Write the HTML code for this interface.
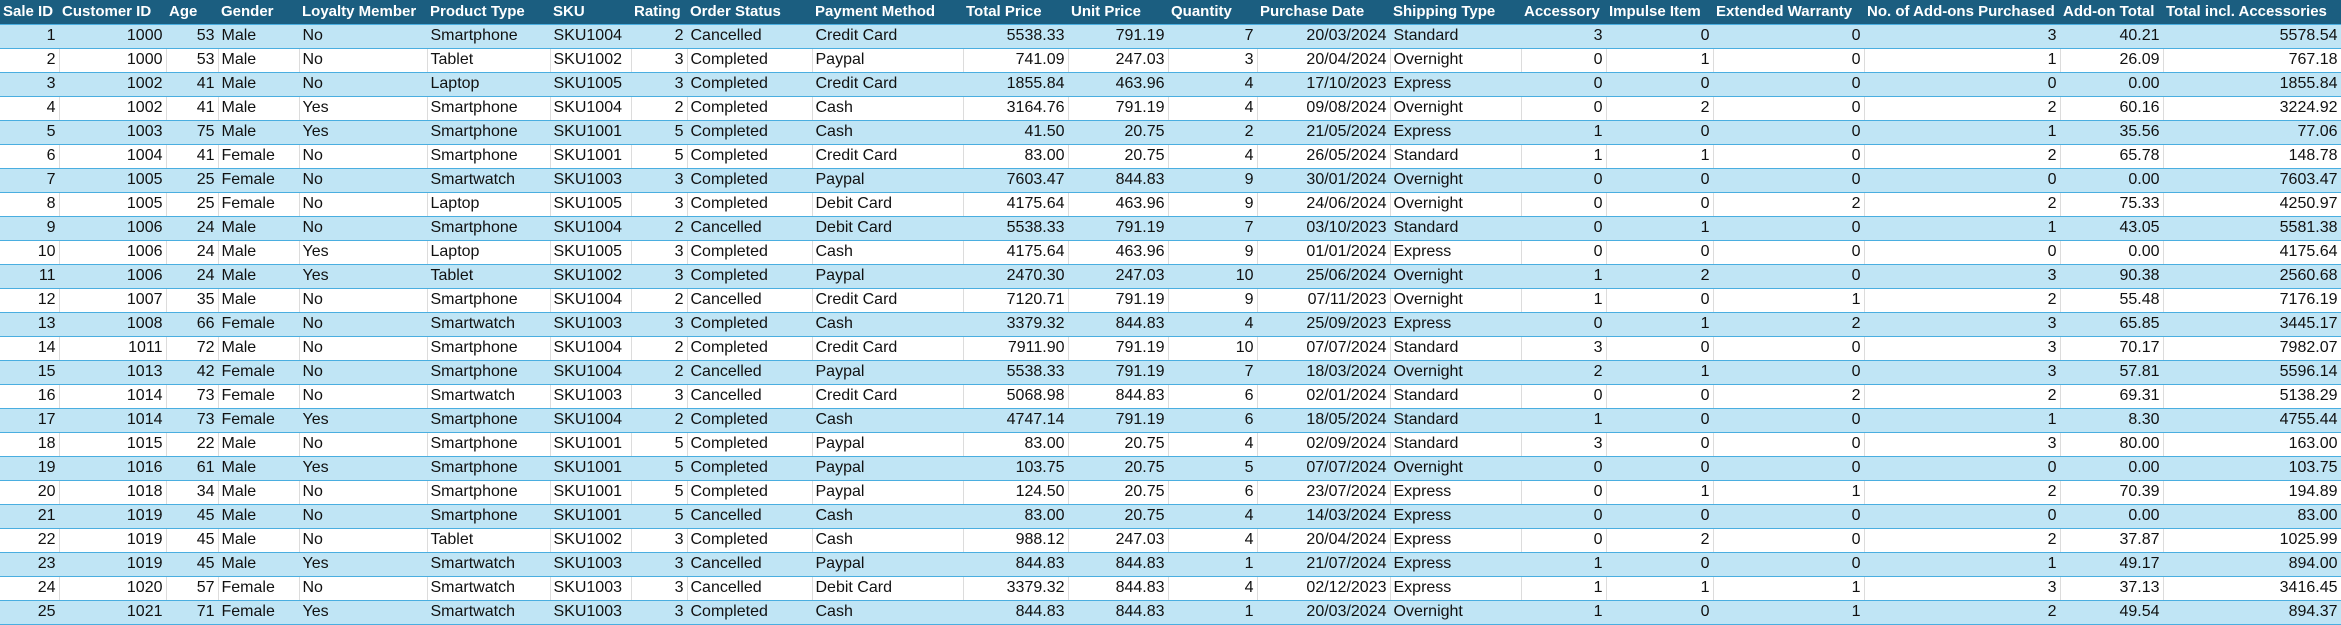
<!DOCTYPE html>
<html><head><meta charset="utf-8">
<style>
html,body{margin:0;padding:0;background:#fff;width:2341px;height:625px;overflow:hidden}
table{border-collapse:collapse;table-layout:fixed;width:2341px;font-family:"Liberation Sans",Arial,sans-serif;font-size:16px;color:#111}
th{background:#1b5e80;color:#fff;font-weight:bold;text-align:left;height:24px;padding:0 3px;white-space:nowrap;overflow:hidden;border-bottom:1px solid #4aaee0;box-sizing:border-box;font-size:15px}
td{height:24px;padding:0 3px;white-space:nowrap;overflow:hidden;border-bottom:1px solid #4aaee0;border-right:1px solid #dcdcdc;box-sizing:border-box}
tr.odd td{background:#c0e5f5;border-right-color:#c0e5f5}
td.r{text-align:right}
</style></head><body>
<table>
<colgroup>
<col style="width:59px"><col style="width:107px"><col style="width:52px"><col style="width:81px"><col style="width:128px"><col style="width:123px"><col style="width:81px"><col style="width:56px"><col style="width:125px"><col style="width:151px"><col style="width:105px"><col style="width:100px"><col style="width:89px"><col style="width:133px"><col style="width:131px"><col style="width:85px"><col style="width:107px"><col style="width:151px"><col style="width:196px"><col style="width:103px"><col style="width:178px">
</colgroup>
<thead><tr id="hdr"></tr></thead>
<tbody id="body"></tbody>
</table>
<script>
var headers=["Sale ID","Customer ID","Age","Gender","Loyalty Member","Product Type","SKU","Rating","Order Status","Payment Method","Total Price","Unit Price","Quantity","Purchase Date","Shipping Type","Accessory","Impulse Item","Extended Warranty","No. of Add-ons Purchased","Add-on Total","Total incl. Accessories"];
var rightAligned=[1,1,1,0,0,0,0,1,0,0,1,1,1,1,0,1,1,1,1,1,1];
var rows=[
"1|1000|53|Male|No|Smartphone|SKU1004|2|Cancelled|Credit Card|5538.33|791.19|7|20/03/2024|Standard|3|0|0|3|40.21|5578.54",
"2|1000|53|Male|No|Tablet|SKU1002|3|Completed|Paypal|741.09|247.03|3|20/04/2024|Overnight|0|1|0|1|26.09|767.18",
"3|1002|41|Male|No|Laptop|SKU1005|3|Completed|Credit Card|1855.84|463.96|4|17/10/2023|Express|0|0|0|0|0.00|1855.84",
"4|1002|41|Male|Yes|Smartphone|SKU1004|2|Completed|Cash|3164.76|791.19|4|09/08/2024|Overnight|0|2|0|2|60.16|3224.92",
"5|1003|75|Male|Yes|Smartphone|SKU1001|5|Completed|Cash|41.50|20.75|2|21/05/2024|Express|1|0|0|1|35.56|77.06",
"6|1004|41|Female|No|Smartphone|SKU1001|5|Completed|Credit Card|83.00|20.75|4|26/05/2024|Standard|1|1|0|2|65.78|148.78",
"7|1005|25|Female|No|Smartwatch|SKU1003|3|Completed|Paypal|7603.47|844.83|9|30/01/2024|Overnight|0|0|0|0|0.00|7603.47",
"8|1005|25|Female|No|Laptop|SKU1005|3|Completed|Debit Card|4175.64|463.96|9|24/06/2024|Overnight|0|0|2|2|75.33|4250.97",
"9|1006|24|Male|No|Smartphone|SKU1004|2|Cancelled|Debit Card|5538.33|791.19|7|03/10/2023|Standard|0|1|0|1|43.05|5581.38",
"10|1006|24|Male|Yes|Laptop|SKU1005|3|Completed|Cash|4175.64|463.96|9|01/01/2024|Express|0|0|0|0|0.00|4175.64",
"11|1006|24|Male|Yes|Tablet|SKU1002|3|Completed|Paypal|2470.30|247.03|10|25/06/2024|Overnight|1|2|0|3|90.38|2560.68",
"12|1007|35|Male|No|Smartphone|SKU1004|2|Cancelled|Credit Card|7120.71|791.19|9|07/11/2023|Overnight|1|0|1|2|55.48|7176.19",
"13|1008|66|Female|No|Smartwatch|SKU1003|3|Completed|Cash|3379.32|844.83|4|25/09/2023|Express|0|1|2|3|65.85|3445.17",
"14|1011|72|Male|No|Smartphone|SKU1004|2|Completed|Credit Card|7911.90|791.19|10|07/07/2024|Standard|3|0|0|3|70.17|7982.07",
"15|1013|42|Female|No|Smartphone|SKU1004|2|Cancelled|Paypal|5538.33|791.19|7|18/03/2024|Overnight|2|1|0|3|57.81|5596.14",
"16|1014|73|Female|No|Smartwatch|SKU1003|3|Cancelled|Credit Card|5068.98|844.83|6|02/01/2024|Standard|0|0|2|2|69.31|5138.29",
"17|1014|73|Female|Yes|Smartphone|SKU1004|2|Completed|Cash|4747.14|791.19|6|18/05/2024|Standard|1|0|0|1|8.30|4755.44",
"18|1015|22|Male|No|Smartphone|SKU1001|5|Completed|Paypal|83.00|20.75|4|02/09/2024|Standard|3|0|0|3|80.00|163.00",
"19|1016|61|Male|Yes|Smartphone|SKU1001|5|Completed|Paypal|103.75|20.75|5|07/07/2024|Overnight|0|0|0|0|0.00|103.75",
"20|1018|34|Male|No|Smartphone|SKU1001|5|Completed|Paypal|124.50|20.75|6|23/07/2024|Express|0|1|1|2|70.39|194.89",
"21|1019|45|Male|No|Smartphone|SKU1001|5|Cancelled|Cash|83.00|20.75|4|14/03/2024|Express|0|0|0|0|0.00|83.00",
"22|1019|45|Male|No|Tablet|SKU1002|3|Completed|Cash|988.12|247.03|4|20/04/2024|Express|0|2|0|2|37.87|1025.99",
"23|1019|45|Male|Yes|Smartwatch|SKU1003|3|Cancelled|Paypal|844.83|844.83|1|21/07/2024|Express|1|0|0|1|49.17|894.00",
"24|1020|57|Female|No|Smartwatch|SKU1003|3|Cancelled|Debit Card|3379.32|844.83|4|02/12/2023|Express|1|1|1|3|37.13|3416.45",
"25|1021|71|Female|Yes|Smartwatch|SKU1003|3|Completed|Cash|844.83|844.83|1|20/03/2024|Overnight|1|0|1|2|49.54|894.37"
];
var hdr=document.getElementById('hdr');
headers.forEach(function(h){
  var th=document.createElement('th');
  th.textContent=h;
  
  
  hdr.appendChild(th);
});
var body=document.getElementById('body');
rows.forEach(function(r,i){
  var tr=document.createElement('tr');
  
  
  if(i%2===0) tr.className='odd';
  r.split('|').forEach(function(v,j){
    var td=document.createElement('td');
    td.textContent=v;
    
    
    if(rightAligned[j]) td.className='r';
    tr.appendChild(td);
  });
  body.appendChild(tr);
});
</script>
</body></html>
